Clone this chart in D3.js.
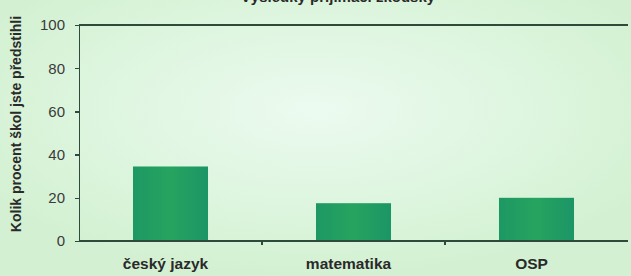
<!DOCTYPE html>
<meta charset="utf-8">
<style>
    body { margin: 0; background: #d6f3d6; }
    svg { display: block; font-family: "Liberation Sans", Arial, sans-serif; }
    .axis path, .axis line { stroke: #2d4a3a; stroke-width: 1.5px; shape-rendering: crispEdges; }
    .axis text { fill: #3a3a3a; font-size: 15px; }
    .x.axis text { font-weight: bold; font-size: 15.5px; fill: #2a2a2a; }
</style>
<svg width="631" height="276"></svg>
<script src="https://d3js.org/d3.v7.min.js"></script>
<script>
    var categories = ["český jazyk", "matematika", "OSP"];
    var values = [34.5, 17.5, 20];
    var yTicks = [0, 20, 40, 60, 80, 100];

    var svg = d3.select("svg"),
        margin = {top: 25, right: 3, bottom: 35, left: 79},
        width = +svg.attr("width") - margin.left - margin.right,
        height = +svg.attr("height") - margin.top - margin.bottom;

    // soft background glow
    var defs = svg.append("defs");
    var bg = defs.append("radialGradient").attr("id", "bg")
        .attr("cx", "50%").attr("cy", "40%").attr("r", "60%");
    bg.append("stop").attr("offset", "0%").attr("stop-color", "#ecfbf0");
    bg.append("stop").attr("offset", "100%").attr("stop-color", "#d3f1d2");
    var barGrad = defs.append("linearGradient").attr("id", "barg").attr("x1", 0).attr("x2", 1);
    barGrad.append("stop").attr("offset", "0%").attr("stop-color", "#1d9864");
    barGrad.append("stop").attr("offset", "50%").attr("stop-color", "#26a45f");
    barGrad.append("stop").attr("offset", "100%").attr("stop-color", "#1c9566");

    svg.append("rect").attr("width", 631).attr("height", 276).attr("fill", "url(#bg)");

    // title, cut off by the top edge as in the scan
    svg.append("text")
        .attr("x", 338).attr("y", 2)
        .attr("text-anchor", "middle")
        .style("font-weight", "bold").style("font-size", "15px").style("fill", "#2a2a2a")
        .text("Výsledky přijímací zkoušky");

    var x = d3.scaleBand().domain(categories).range([0, 549]).padding(0);
    var y = d3.scaleLinear().domain([0, 100]).range([height, 0]);

    var g = svg.append("g")
        .attr("transform", "translate(" + margin.left + "," + margin.top + ")");

    g.append("line")
        .attr("x1", 0).attr("x2", width).attr("y1", 0).attr("y2", 0)
        .attr("stroke", "#2d4a3a").attr("stroke-width", 1.5).attr("shape-rendering", "crispEdges");

    var barW = x.bandwidth() * 0.41;
    g.selectAll(".bar")
        .data(values)
        .enter().append("rect")
        .attr("class", "bar")
        .attr("x", function(d, i) { return x(categories[i]) + (x.bandwidth() - barW) / 2; })
        .attr("width", barW)
        .attr("y", function(d) { return y(d); })
        .attr("height", function(d) { return height - y(d); })
        .attr("fill", "url(#barg)");

    g.append("g")
        .attr("class", "y axis")
        .call(d3.axisLeft(y).tickValues(yTicks).tickSize(4).tickSizeOuter(0).tickPadding(10));

    var xAxis = g.append("g")
        .attr("class", "x axis")
        .attr("transform", "translate(0," + height + ")");
    xAxis.append("line")
        .attr("x1", 0).attr("x2", width)
        .attr("stroke", "#2d4a3a").attr("stroke-width", 1.5).attr("shape-rendering", "crispEdges");
    xAxis.selectAll(".sep")
        .data(categories.slice(1))
        .enter().append("line")
        .attr("x1", function(d) { return x(d); }).attr("x2", function(d) { return x(d); })
        .attr("y1", 0).attr("y2", 4)
        .attr("stroke", "#7a8f80");
    xAxis.selectAll(".lab")
        .data(categories)
        .enter().append("text")
        .attr("x", function(d) { return x(d) + x.bandwidth() / 2 - 5; })
        .attr("y", 28)
        .attr("text-anchor", "middle")
        .text(function(d) { return d; });

    svg.append("text")
        .attr("transform", "translate(21," + 124 + ") rotate(-90)")
        .attr("text-anchor", "middle")
        .style("font-weight", "bold").style("font-size", "14px").style("fill", "#2a2a2a")
        .text("Kolik procent škol jste předstihli");
</script>
